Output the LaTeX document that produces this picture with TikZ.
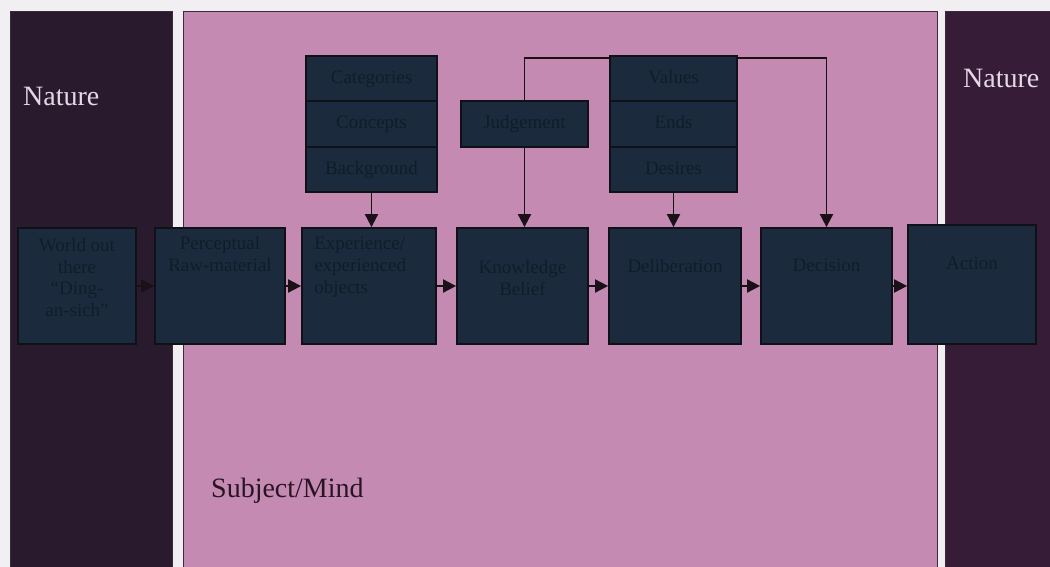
\documentclass[tikz,border=0pt]{standalone}
\usepackage{fontspec}
\setmainfont{Liberation Serif}
\usetikzlibrary{arrows.meta}
\definecolor{bgc}{HTML}{F1EFF1}
\definecolor{natL}{HTML}{2A1A2E}
\definecolor{natR}{HTML}{361C36}
\definecolor{pinkc}{HTML}{C48AB2}
\definecolor{panelline}{HTML}{3A2A3A}
\definecolor{boxfill}{HTML}{1B2B3D}
\definecolor{boxline}{HTML}{0E1218}
\definecolor{boxtext}{HTML}{111C29}
\definecolor{naturec}{HTML}{E6D8E6}
\definecolor{subjc}{HTML}{2A1424}
\definecolor{arrowc}{HTML}{1A1018}
\begin{document}
\begin{tikzpicture}[x=1pt,y=-1pt,
  panel/.style={draw=panelline, line width=1pt},
  bigtext/.style={font=\fontsize{28}{30}\selectfont, inner sep=0pt},
  mainbox/.style={draw=boxline, line width=1.8pt, fill=boxfill, inner sep=0pt},
  boxlabel/.style={text=boxtext, align=center, anchor=north, inner sep=0pt,
    font=\fontsize{19}{21.6}\selectfont},
  rowbox/.style={draw=boxline, line width=1.8pt, fill=boxfill, inner sep=0pt,
    text=boxtext, font=\fontsize{19}{21.6}\selectfont, text height=14pt, text depth=4pt},
  arr/.style={-{Triangle[length=13pt,width=13pt]}, line width=1.9pt, draw=arrowc},
  link/.style={line width=1.9pt, draw=arrowc}
]
\useasboundingbox (0,0) rectangle (1050,567);
\fill[bgc] (0,0) rectangle (1050,567);
% panels
\draw[panel, fill=natL] (10,12) rectangle (172,572);
\draw[panel, fill=pinkc] (183,12) rectangle (937,572);
\draw[panel, fill=natR] (945,12) rectangle (1056,572);
\node[bigtext, text=naturec, anchor=base west] (natl) at (23,106) {Nature};
\node[bigtext, text=naturec, anchor=base west] (natr) at (963,88) {Nature};
\node[bigtext, text=subjc, anchor=base west] (subj) at (211,497) {Subject/Mind};
% main row
\node[mainbox, minimum width=118pt, minimum height=116pt] (world) at (77,286) {};
\node[mainbox, minimum width=130pt, minimum height=116pt] (perc) at (220,286) {};
\node[mainbox, minimum width=134pt, minimum height=116pt] (exp) at (369,286) {};
\node[mainbox, minimum width=131pt, minimum height=116pt] (know) at (522.5,286) {};
\node[mainbox, minimum width=132pt, minimum height=116pt] (delib) at (675,286) {};
\node[mainbox, minimum width=131pt, minimum height=116pt] (dec) at (826.5,286) {};
\node[mainbox, minimum width=128pt, minimum height=119pt] (act) at (972,284.5) {};
\node[boxlabel] (worldt) at ([yshift=-11pt]world.north) {World out\\there\\``Ding-\\an-sich''};
\node[boxlabel] (perct) at ([yshift=-9pt]perc.north) {Perceptual\\Raw-material};
\node[boxlabel, align=left, anchor=north west] (expt) at ([xshift=13pt,yshift=-10pt]exp.north west) {Experience/\\experienced\\objects};
\node[boxlabel] (knowt) at ([yshift=-33pt]know.north) {Knowledge\\Belief};
\node[boxlabel] (delibt) at ([yshift=-32pt]delib.north) {Deliberation};
\node[boxlabel] (dect) at ([yshift=-32pt]dec.north) {Decision};
\node[boxlabel] (actt) at ([yshift=-33pt]act.north) {Action};
% judgement
\node[rowbox, minimum width=127pt, minimum height=46pt] (jud) at (524.5,124) {Judgement};
% line from judgement over the top to decision (behind the values stack)
\coordinate (topc) at (524.5,58);
\draw[link] (jud.north) -- (topc) -- (topc -| dec.north);
\draw[arr] (topc -| dec.north) -- (dec.north);
% stacks
\node[rowbox, minimum width=131pt, minimum height=45.3pt] (cat1) at (371.5,78.7) {Categories};
\node[rowbox, minimum width=131pt, minimum height=45.3pt] (cat2) at (371.5,124) {Concepts};
\node[rowbox, minimum width=131pt, minimum height=45.3pt] (cat3) at (371.5,169.3) {Background};
\node[rowbox, minimum width=127pt, minimum height=45.3pt] (val1) at (673.5,78.7) {Values};
\node[rowbox, minimum width=127pt, minimum height=45.3pt] (val2) at (673.5,124) {Ends};
\node[rowbox, minimum width=127pt, minimum height=45.3pt] (val3) at (673.5,169.3) {Desires};
% vertical arrows
\draw[arr] (cat3.south) -- (cat3.south |- exp.north);
\draw[arr] (jud.south) -- (jud.south |- know.north);
\draw[arr] (val3.south) -- (val3.south |- delib.north);
% horizontal arrows
\draw[arr] (world.east) -- (perc.west);
\draw[arr] (perc.east) -- (exp.west);
\draw[arr] (exp.east) -- (know.west);
\draw[arr] (know.east) -- (delib.west);
\draw[arr] (delib.east) -- (dec.west);
\draw[arr] (dec.east) -- (dec.east -| act.west);
\end{tikzpicture}
\end{document}
